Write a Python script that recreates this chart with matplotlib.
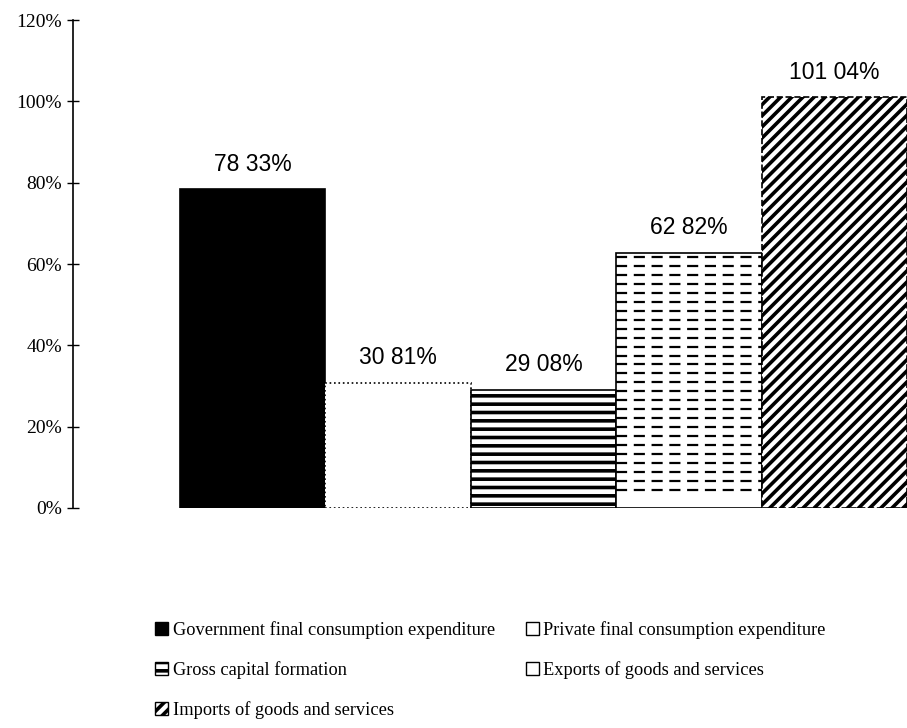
import numpy as np
import matplotlib.pyplot as plt
from matplotlib.patches import Patch

# shares in % (decimal point lost in the scan, labels kept as printed)
categories = ["Government final consumption expenditure",
              "Private final consumption expenditure",
              "Gross capital formation",
              "Exports of goods and services",
              "Imports of goods and services"]
values = [78.33, 30.81, 29.08, 62.82, 101.04]
bar_labels = ["78 33%", "30 81%", "29 08%", "62 82%", "101 04%"]
yticks = [0, 20, 40, 60, 80, 100, 120]

plt.rcParams['hatch.linewidth'] = 2.6

fig = plt.figure(figsize=(9.07, 7.28), dpi=100)
ax = fig.add_axes([73/907, 220/728, 1 - 73/907, 488/728])

x = np.arange(len(values))
fc = ['black', 'white', 'white', 'white', 'white']
hatches = [None, None, '--', None, '///']
styles = ['-', ':', '-', '-', '--']
bars = ax.bar(x, values, width=1.0, color=fc, edgecolor='black', linewidth=1.2)
for b, h, ls in zip(bars, hatches, styles):
    b.set_linestyle(ls)
    if h:
        b.set_hatch(h)

# dashed horizontal fill for exports bar
eb = bars[3]
ys = np.arange(4.5, values[3], 2.2)
ln = ax.hlines(ys, eb.get_x(), eb.get_x() + eb.get_width(), colors='black',
               linestyles=(0, (5, 3)), linewidth=1.6)
ln.set_clip_path(eb)

for xi, v, s in zip(x, values, bar_labels):
    ax.text(xi, v + 3.3, s, ha='center', va='bottom', fontsize=16.5,
            family='Liberation Sans')

ax.set_xlim(-1.235, 4.5)
ax.set_ylim(0, 120)
ax.set_yticks(yticks)
ax.set_yticklabels([f"{t}%" for t in yticks], family='Liberation Serif', fontsize=14)
ax.tick_params(axis='y', direction='inout', length=8, width=1, pad=4)
ax.set_xticks([])
for s in ['top', 'right', 'bottom']:
    ax.spines[s].set_visible(False)
ax.spines['left'].set_linewidth(1.2)

handles = []
for c, h in zip(fc, hatches):
    handles.append(Patch(facecolor=c, edgecolor='black', hatch=h))
order = [0, 2, 4, 1, 3]
leg = fig.legend([handles[i] for i in order], [categories[i] for i in order],
                 loc='upper left', bbox_to_anchor=(146/907, 1 - 612/728),
                 ncol=2, frameon=False, prop={'family': 'Liberation Serif', 'size': 13.2},
                 handlelength=0.7, handleheight=0.7, handletextpad=0.25,
                 labelspacing=1.2, columnspacing=1.7, borderpad=0)

fig.savefig('out.png', dpi=100)
